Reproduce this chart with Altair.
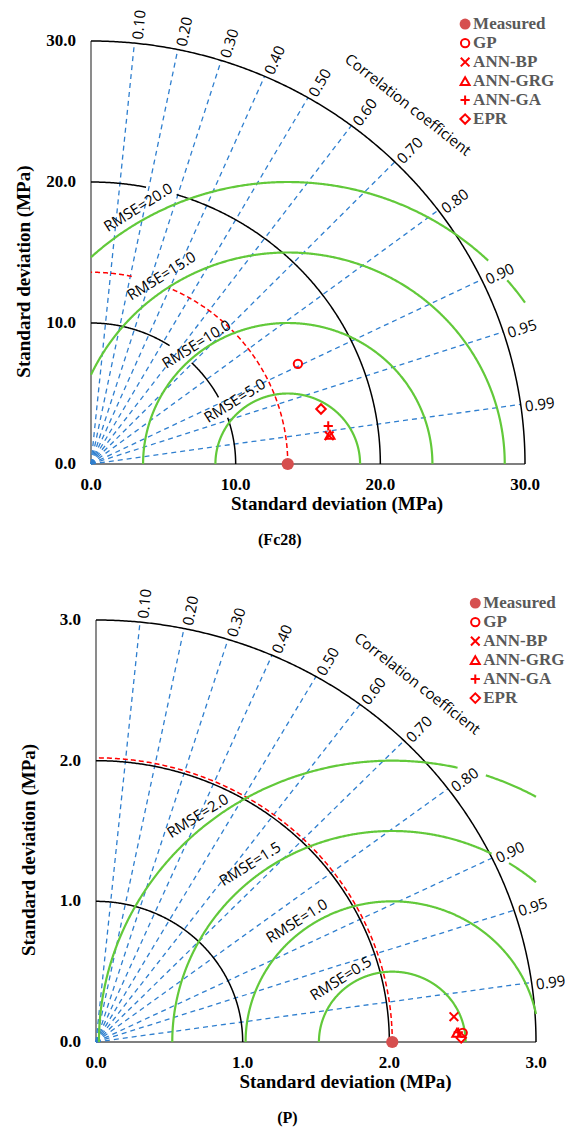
import numpy as np
import pandas as pd
import altair as alt

# ---------------- data ----------------
W, H = 565, 1131

models = ["GP", "ANN-BP", "ANN-GRG", "ANN-GA", "EPR"]
legend_names = ["Measured", "GP", "ANN-BP", "ANN-GRG", "ANN-GA", "EPR"]
model_shapes = ["circle", "M-1,-1L1,1M-1,1L1,-1", "triangle-up", "M-1,0L1,0M0,-1L0,1", "diamond"]
model_sizes = [70, 90, 85, 110, 75]

corr_values = [0.10, 0.20, 0.30, 0.40, 0.50, 0.60, 0.70, 0.80, 0.90, 0.95, 0.99]
corr_labels = ["0.10", "0.20", "0.30", "0.40", "0.50", "0.60", "0.70", "0.80", "0.90", "0.95", "0.99"]

# Fc28 panel
fc_ticks = [0, 10, 20, 30]
fc_tick_labels = ["0.0", "10.0", "20.0", "30.0"]
fc_std_arcs = [10, 20, 30]
fc_measured_sd = 13.6
fc_model_sd = [15.97, 16.59, 16.65, 16.62, 16.37]
fc_model_corr = [0.8956, 0.9927, 0.9923, 0.9867, 0.9712]
fc_rmse = [5, 10, 15, 20]
fc_rmse_labels = ["RMSE=5.0", "RMSE=10.0", "RMSE=15.0", "RMSE=20.0"]
fc_rmse_label_x = [9.95, 7.30, 4.88, 3.27]
fc_rmse_label_y = [4.48, 8.50, 13.33, 18.19]

# P panel
p_ticks = [0, 1, 2, 3]
p_tick_labels = ["0.0", "1.0", "2.0", "3.0"]
p_std_arcs = [1, 2, 3]
p_measured_sd = 2.02
p_model_sd = [2.501, 2.447, 2.461, 2.471, 2.490]
p_model_corr = [0.99966, 0.9973, 0.99965, 0.9996, 0.99993]
p_rmse = [0.5, 1.0, 1.5, 2.0]
p_rmse_labels = ["RMSE=0.5", "RMSE=1.0", "RMSE=1.5", "RMSE=2.0"]
p_rmse_label_x = [1.67, 1.37, 1.05, 0.694]
p_rmse_label_y = [0.451, 0.86, 1.265, 1.607]

panels = [
    dict(vmax=30, px0=91, px1=525, py0=464, py1=41,
         ticks=fc_ticks, tick_labels=fc_tick_labels, std_arcs=fc_std_arcs,
         measured=fc_measured_sd, sd=fc_model_sd, corr=fc_model_corr,
         rmse=fc_rmse, rmse_labels=fc_rmse_labels,
         rmse_x=fc_rmse_label_x, rmse_y=fc_rmse_label_y, caption="(Fc28)",
         std_gaps={10: [(19.4, 28.0), (46.0, 57.0)], 20: [(73.0, 79.0)]},
         meas_gaps=[(67.0, 78.0)],
         green_gaps={20: [(40.8, 46.1)]}),
    dict(vmax=3, px0=96, px1=536, py0=1042, py1=620,
         ticks=p_ticks, tick_labels=p_tick_labels, std_arcs=p_std_arcs,
         measured=p_measured_sd, sd=p_model_sd, corr=p_model_corr,
         rmse=p_rmse, rmse_labels=p_rmse_labels,
         rmse_x=p_rmse_label_x, rmse_y=p_rmse_label_y, caption="(P)",
         std_gaps={}, meas_gaps=[],
         green_gaps={2.0: [(71.6, 76.9)], 1.5: [(58.0, 63.0)]}),
]

BLUE = "#2f7fcf"
GREEN = "#62c93a"
RED = "#ff0000"
MEAS = "#d64f4f"
SERIF = "Liberation Serif"
SANS = "Open Sans"


def arc_rows(cx, r, t0, t1, gaps, name):
    n = int((t1 - t0) / 0.25) + 2
    ts = np.linspace(t0, t1, n)
    rows = []
    seg = 0
    prev_in = True
    for i, t in enumerate(ts):
        inside_gap = any(a <= t <= b for a, b in gaps)
        if inside_gap:
            if prev_in:
                seg += 1
            prev_in = False
            continue
        prev_in = True
        rad = np.radians(t)
        rows.append({"x": cx + r * np.cos(rad), "y": r * np.sin(rad),
                     "seg": f"{name}-{seg}", "i": i})
    return rows


def panel_chart(p):
    vmax = p["vmax"]
    kx = (p["px1"] - p["px0"]) / vmax
    ky = (p["py0"] - p["py1"]) / vmax
    xdom = [-p["px0"] / kx, (W - p["px0"]) / kx]
    yhi = p["py0"] / ky
    ydom = [yhi - H / ky, yhi]

    def X(f="x"):
        return alt.X(f"{f}:Q", scale=alt.Scale(domain=xdom, nice=False, zero=False), axis=None)

    def Y(f="y"):
        return alt.Y(f"{f}:Q", scale=alt.Scale(domain=ydom, nice=False, zero=False), axis=None)

    layers = []

    # axis lines
    ax = pd.DataFrame({"x": [0, 0], "y": [0, 0], "x2": [0, vmax], "y2": [vmax, 0]})
    layers.append(alt.Chart(ax).mark_rule(color="#7f7f7f", strokeWidth=1.8).encode(
        x=X(), y=Y(), x2="x2:Q", y2="y2:Q"))

    # correlation rays
    cv = np.array(corr_values)
    deg = np.degrees(np.arccos(cv))
    rays = pd.DataFrame({"x": 0.0, "y": 0.0, "x2": vmax * cv, "y2": vmax * np.sqrt(1 - cv ** 2),
                         "label": corr_labels, "rot": 360 - deg})
    layers.append(alt.Chart(rays).mark_rule(color=BLUE, strokeWidth=1.3, strokeDash=[5, 4]).encode(
        x=X(), y=Y(), x2="x2:Q", y2="y2:Q"))

    # std arcs (black)
    rows = []
    for r in p["std_arcs"]:
        rows += arc_rows(0.0, r, 0.0, 90.0, p["std_gaps"].get(r, []), f"s{r}")
    layers.append(alt.Chart(pd.DataFrame(rows)).mark_line(color="black", strokeWidth=1.5).encode(
        x=X(), y=Y(), detail="seg:N", order="i:Q"))

    # measured std arc (red dashed)
    rows = arc_rows(0.0, p["measured"], 0.0, 90.0, p["meas_gaps"], "m")
    layers.append(alt.Chart(pd.DataFrame(rows)).mark_line(color=RED, strokeWidth=1.5, strokeDash=[5, 3]).encode(
        x=X(), y=Y(), detail="seg:N", order="i:Q"))

    # RMSE arcs (green)
    rows = []
    cx = p["measured"]
    for r in p["rmse"]:
        t_lo = np.degrees(np.arccos(min(1.0, (vmax - cx) / r)))
        t_hi = np.degrees(np.arccos(max(-1.0, -cx / r)))
        rows += arc_rows(cx, r, t_lo, t_hi, p["green_gaps"].get(r, []), f"g{r}")
    layers.append(alt.Chart(pd.DataFrame(rows)).mark_line(color=GREEN, strokeWidth=2.2).encode(
        x=X(), y=Y(), detail="seg:N", order="i:Q"))

    shape_scale = alt.Scale(domain=models, range=model_shapes)
    size_scale = alt.Scale(domain=models, range=model_sizes)

    # model points
    dm = pd.DataFrame({"model": models, "sd": p["sd"], "corr": p["corr"]})
    dm["x"] = dm["sd"] * dm["corr"]
    dm["y"] = dm["sd"] * np.sqrt(1 - dm["corr"] ** 2)
    layers.append(alt.Chart(dm).mark_point(filled=False, color=RED, strokeWidth=2, opacity=1).encode(
        x=X(), y=Y(),
        shape=alt.Shape("model:N", scale=shape_scale, legend=None),
        size=alt.Size("model:N", scale=size_scale, legend=None)))

    # measured point
    dmeas = pd.DataFrame({"x": [p["measured"]], "y": [0.0]})
    layers.append(alt.Chart(dmeas).mark_point(filled=True, color=MEAS, size=150, opacity=1).encode(
        x=X(), y=Y()))

    # correlation labels
    layers.append(alt.Chart(rays).mark_text(align="left", baseline="middle", dx=4, dy=3,
                                            font=SANS, fontSize=15, color="black").encode(
        x=X("x2"), y=Y("y2"), text="label:N", angle=alt.Angle("rot:Q", scale=None)))

    # "Correlation coefficient"
    rr = 1.12 * vmax
    th = np.radians(49.3)
    dcc = pd.DataFrame({"x": [rr * np.cos(th)], "y": [rr * np.sin(th)], "t": ["Correlation coefficient"]})
    layers.append(alt.Chart(dcc).mark_text(align="center", baseline="middle", angle=38,
                                           font=SANS, fontSize=15, color="black").encode(
        x=X(), y=Y(), text="t:N"))

    # RMSE labels
    drm = pd.DataFrame({"x": p["rmse_x"], "y": p["rmse_y"], "t": p["rmse_labels"]})
    layers.append(alt.Chart(drm).mark_text(align="center", baseline="middle", angle=328,
                                           font=SANS, fontSize=15, color="black").encode(
        x=X(), y=Y(), text="t:N"))

    # tick labels
    dt = pd.DataFrame({"v": p["ticks"], "zero": 0.0, "t": p["tick_labels"]})
    layers.append(alt.Chart(dt).mark_text(align="center", baseline="middle", dy=21,
                                          font=SERIF, fontWeight="bold", fontSize=17, color="black").encode(
        x=X("v"), y=Y("zero"), text="t:N"))
    layers.append(alt.Chart(dt).mark_text(align="right", baseline="middle", dx=-15,
                                          font=SERIF, fontWeight="bold", fontSize=17, color="black").encode(
        x=X("zero"), y=Y("v"), text="t:N"))

    # axis titles and caption
    dti = pd.DataFrame({"x": [0.567 * vmax], "y": [0.0], "t": ["Standard deviation (MPa)"]})
    layers.append(alt.Chart(dti).mark_text(align="center", baseline="middle", dy=40,
                                           font=SERIF, fontWeight="bold", fontSize=19, color="black").encode(
        x=X(), y=Y(), text="t:N"))
    dyt = pd.DataFrame({"x": [0.0], "y": [0.455 * vmax], "t": ["Standard deviation (MPa)"]})
    layers.append(alt.Chart(dyt).mark_text(align="center", baseline="middle", angle=270, dy=-67,
                                           font=SERIF, fontWeight="bold", fontSize=19, color="black").encode(
        x=X(), y=Y(), text="t:N"))
    dcap = pd.DataFrame({"x": [0.435 * vmax], "y": [0.0], "t": [p["caption"]]})
    layers.append(alt.Chart(dcap).mark_text(align="center", baseline="middle", dy=76,
                                            font=SERIF, fontWeight="bold", fontSize=16, color="black").encode(
        x=X(), y=Y(), text="t:N"))

    # legend
    lx = 0.862 * vmax
    ly0 = 1.040 * vmax
    step = 19 / ky
    dl = pd.DataFrame({"name": legend_names, "x": lx,
                       "y": [ly0 - i * step for i in range(len(legend_names))]})
    layers.append(alt.Chart(dl.iloc[:1]).mark_point(filled=True, color=MEAS, size=120, opacity=1).encode(
        x=X(), y=Y()))
    layers.append(alt.Chart(dl.iloc[1:].rename(columns={"name": "model"})).mark_point(
        filled=False, color=RED, strokeWidth=2, opacity=1).encode(
        x=X(), y=Y(),
        shape=alt.Shape("model:N", scale=shape_scale, legend=None),
        size=alt.Size("model:N", scale=size_scale, legend=None)))
    layers.append(alt.Chart(dl).mark_text(align="left", baseline="middle", dx=8,
                                          font=SERIF, fontWeight="bold", fontSize=17, color="#595959").encode(
        x=X(), y=Y(), text="name:N"))

    return alt.layer(*layers)


chart = alt.layer(*[panel_chart(p) for p in panels]).resolve_scale(
    x="independent", y="independent"
).properties(
    width=W, height=H, autosize=alt.AutoSizeParams(type="none"), padding=0, background="white"
).configure_view(stroke=None)

chart.save("out.html", embed_options={"renderer": "svg", "actions": False})
